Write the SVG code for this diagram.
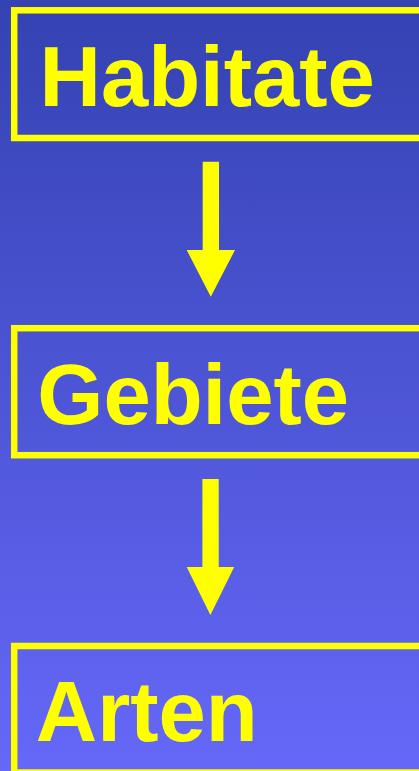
<svg xmlns="http://www.w3.org/2000/svg" width="419" height="771" viewBox="0 0 419 771">
<defs>
<linearGradient id="bg" x1="0" y1="0" x2="0" y2="1">
<stop offset="0" stop-color="#3442b2"/>
<stop offset="1" stop-color="#6568f8"/>
</linearGradient>
</defs>
<style>
.box{fill:none;stroke:#ffff00;stroke-width:6.5}
.lbl{font-family:"Liberation Sans",Arial,sans-serif;font-weight:bold;font-size:85px;fill:#ffff00}
.arr{fill:#ffff00}
</style>
<rect x="0" y="0" width="419" height="771" fill="url(#bg)"/>
<g id="habitate">
<rect class="box" x="14.2" y="10.3" width="420" height="127.7"/>
<text class="lbl" x="39.5" y="106">Habitate</text>
</g>
<g id="gebiete">
<rect class="box" x="14.2" y="328.2" width="420" height="127"/>
<text class="lbl" x="37.3" y="424">Gebiete</text>
</g>
<g id="arten">
<rect class="box" x="14.2" y="646" width="420" height="126.5"/>
<text class="lbl" x="35.8" y="740.5">Arten</text>
</g>
<g id="connectors">
<polygon class="arr" points="202.7,161.7 219,161.7 219,250 235,250 210.8,296.7 186.7,250 202.7,250"/>
<polygon class="arr" points="202.4,479 218.7,479 218.7,567 234.2,567 210.4,615 186.7,567 202.4,567"/>
</g>
</svg>
